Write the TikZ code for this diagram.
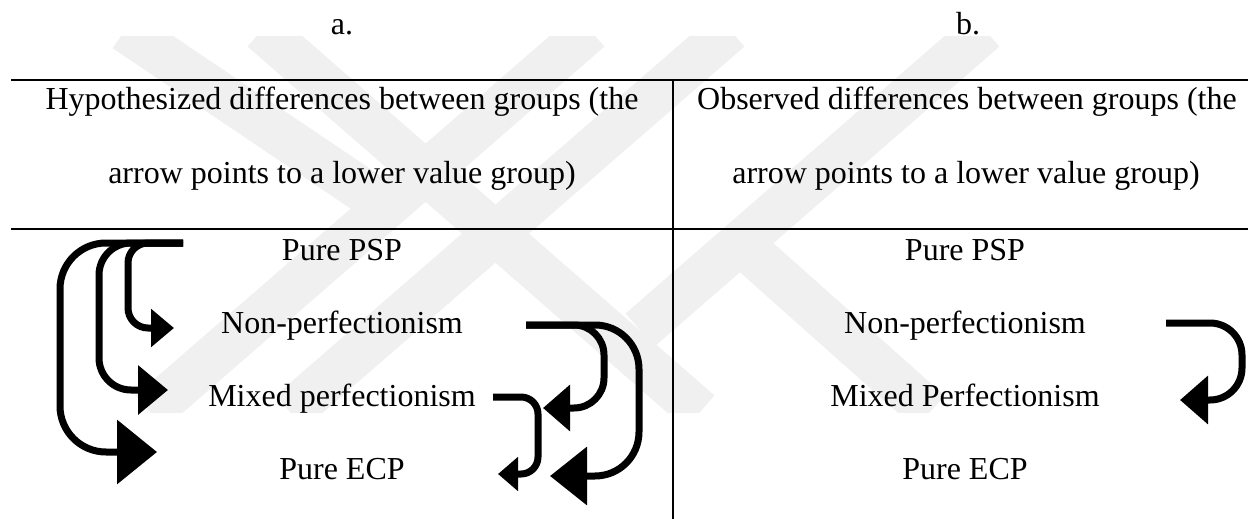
\documentclass[tikz,border=0pt]{standalone}
\usepackage{fontspec}
\setmainfont{Liberation Serif}
\usetikzlibrary{arrows.meta}
\begin{document}
\begin{tikzpicture}[x=1pt,y=-1pt,
  lbl/.style={font=\fontsize{32}{38}\selectfont, anchor=base, inner sep=0pt},
  rule/.style={line width=1.6pt},
  flow/.style={line width=7pt, rounded corners=#1},
  band/.style={line width=44pt, draw=black!6, line join=miter}]
\useasboundingbox (0,0) rectangle (1248,519);

% faint background emblem
\begin{scope}
  \clip (0,37) rectangle (1248,412);
  \draw[band] (125,30) -- (392,210);
  \draw[band] (262,30) -- (700,412);
  \draw[band] (590,30) -- (150,412);
  \draw[band] (730,30) -- (290,412);
  \draw[band] (985,30) -- (640,330);
  \draw[band] (748,250) -- (930,412);
\end{scope}

% column titles
\node[lbl] (ta) at (342,35) {a.};
\node[lbl] (tb) at (968,35) {b.};

% table rules
\coordinate (r1l) at (11,80);   \coordinate (r1r) at (1248,80);
\coordinate (r2l) at (11,229);  \coordinate (r2r) at (1248,229);
\coordinate (vt) at (673,80);   \coordinate (vb) at (673,519);
\draw[rule] (r1l) -- (r1r);
\draw[rule] (r2l) -- (r2r);
\draw[rule] (vt) -- (vb);

% header cells
\node[lbl] (ha1) at (342,110) {Hypothesized differences between groups (the};
\node[lbl] (ha2) at (342,183) {arrow points to a lower value group)};
\node[lbl] (hb1) at (967,110) {Observed differences between groups (the};
\node[lbl] (hb2) at (966,183) {arrow points to a lower value group)};

% body, hypothesized
\node[lbl] (apsp) at (342,260) {Pure PSP};
\node[lbl] (anon) at (342,333) {Non-perfectionism};
\node[lbl] (amix) at (342,406) {Mixed perfectionism};
\node[lbl] (aecp) at (342,479) {Pure ECP};

% body, observed
\node[lbl] (bpsp) at (965,260) {Pure PSP};
\node[lbl] (bnon) at (965,333) {Non-perfectionism};
\node[lbl] (bmix) at (965,406) {Mixed Perfectionism};
\node[lbl] (becp) at (965,479) {Pure ECP};

% arrows from Pure PSP (left side)
\coordinate (la) at (183,243);
\coordinate (la1) at (174,328);
\coordinate (la2) at (168,390);
\coordinate (la3) at (157,452);
\draw[flow=20pt, -{Triangle[length=23pt,width=37pt]}] (la) -- (128,243) -- (128,328) -- (la1);
\draw[flow=32pt, -{Triangle[length=30pt,width=48pt]}] (la) -- (99,243) -- (99,390) -- (la2);
\draw[flow=46pt, -{Triangle[length=40pt,width=63pt]}] (la) -- (60,243) -- (60,452) -- (la3);

% arrows from Non-perfectionism (right side)
\coordinate (ra) at (526,325);
\coordinate (ra1) at (543,408);
\coordinate (ra2) at (550,476);
\draw[flow=30pt, -{Triangle[length=27pt,width=45pt]}] (ra) -- (604,325) -- (604,408) -- (ra1);
\draw[flow=44pt, -{Triangle[length=37pt,width=57pt]}] (ra) -- (639,325) -- (639,476) -- (ra2);

% arrow from Mixed perfectionism
\coordinate (rm) at (493,397);
\coordinate (rm1) at (498,474);
\draw[flow=17pt, -{Triangle[length=20pt,width=33pt]}] (rm) -- (538,397) -- (538,474) -- (rm1);

% observed: Non-perfectionism to Mixed Perfectionism
\coordinate (rb) at (1166,323);
\coordinate (rb1) at (1180,400);
\draw[flow=32pt, -{Triangle[length=28pt,width=47pt]}] (rb) -- (1242,323) -- (1242,400) -- (rb1);
\end{tikzpicture}
\end{document}
